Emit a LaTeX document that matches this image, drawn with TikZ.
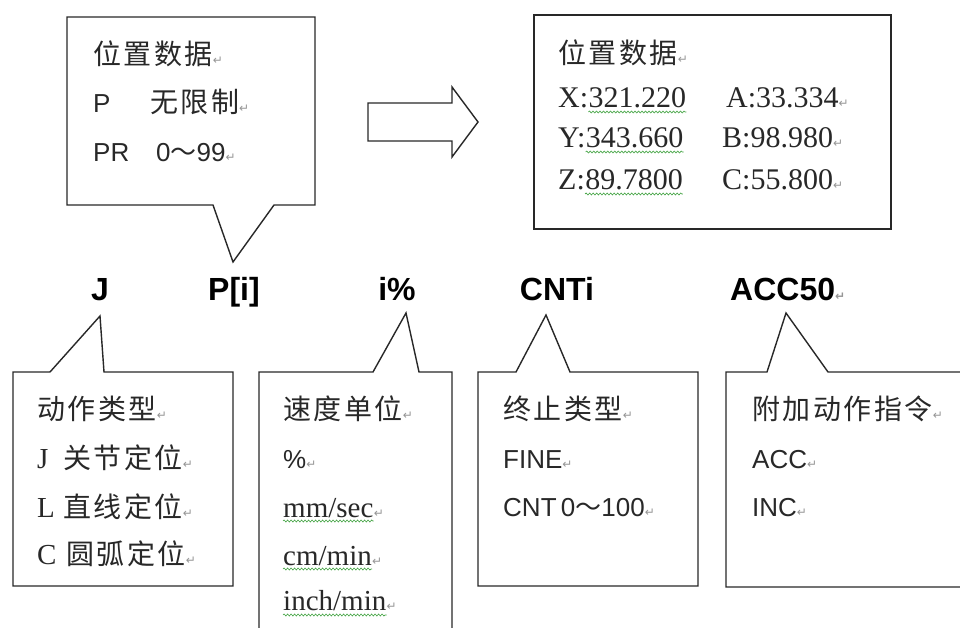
\documentclass[tikz,border=0pt]{standalone}
\usepackage{fontspec}
\setmainfont{Liberation Serif}
\setsansfont{Liberation Sans}
\newfontfamily\cjk[LetterSpace=9]{Noto Sans CJK SC}
\newfontfamily\cjkt{Noto Sans CJK SC}
\newfontfamily\symf{DejaVu Sans}
\usetikzlibrary{decorations.pathmorphing}
\definecolor{pmgray}{RGB}{150,150,150}
\definecolor{wavyg}{RGB}{60,160,60}
\definecolor{inkc}{RGB}{40,40,40}
\newcommand{\pmark}{{\symf\fontsize{12}{12}\selectfont\color{pmgray}↵}}
\newcommand{\wtilde}{{\cjkt ～}}
\tikzset{
  txt/.style={inner sep=0pt, anchor=base west, text=inkc},
  zh/.style={txt, font=\cjk\fontsize{28}{28}\selectfont},
  sf/.style={txt, font=\sffamily\fontsize{26}{26}\selectfont},
  rm/.style={txt, font=\rmfamily\fontsize{30}{30}\selectfont},
  rmb/.style={txt, font=\rmfamily\fontsize{29}{29}\selectfont},
  lab/.style={inner sep=0pt, anchor=base, font=\sffamily\bfseries\fontsize{32}{32}\selectfont},
  callout/.style={draw=inkc, line width=1.4pt, line join=miter},
  wavy/.style={draw=wavyg, line width=0.6pt, decorate, decoration={snake, amplitude=1pt, segment length=3.5pt}}
}
\begin{document}
\begin{tikzpicture}[x=1pt,y=-1pt]
\useasboundingbox (0,0) rectangle (960,628);
\clip (0,0) rectangle (960,628);
\fill[white] (0,0) rectangle (960,628);

% ---- top-left callout
\draw[callout] (67,17) -- (315,17) -- (315,205) -- (274,205) -- (233,262) -- (213,205) -- (67,205) -- cycle;
\node[zh] (t1) at (93,65) {位置数据\pmark};
\node[sf] (t2a) at (93,113) {P};
\node[zh] (t2b) at (150,113) {无限制\pmark};
\node[sf] (t3a) at (93,162) {PR};
\node[sf] (t3b) at (156,162) {0\wtilde 99\pmark};

% ---- block arrow
\draw[callout] (368,103) -- (452,103) -- (452,87) -- (478,122) -- (452,157) -- (452,141) -- (368,141) -- cycle;

% ---- top-right box
\draw[callout] (534,15) rectangle (891,229);
\node[zh] (r0) at (558,64) {位置数据\pmark};
\node[rm] (rx) at (558,108) {X:};
\node[rm, anchor=base west] (rxn) at (rx.base east) {321.220};
\node[rm] (ry) at (558,148) {Y:};
\node[rm, anchor=base west] (ryn) at (ry.base east) {343.660};
\node[rm] (rz) at (558,190) {Z:};
\node[rm, anchor=base west] (rzn) at (rz.base east) {89.7800};
\node[rm] (ra) at (726,108) {A:33.334\pmark};
\node[rm] (rb) at (722,148) {B:98.980\pmark};
\node[rm] (rc) at (722,190) {C:55.800\pmark};
\draw[wavy] ([yshift=-4pt]rxn.base west) -- ([yshift=-4pt]rxn.base east);
\draw[wavy] ([yshift=-4pt]ryn.base west) -- ([yshift=-4pt]ryn.base east);
\draw[wavy] ([yshift=-4pt]rzn.base west) -- ([yshift=-4pt]rzn.base east);

% ---- instruction labels
\node[lab] (lj) at (100,300) {J};
\node[lab] (lp) at (234,300) {P[i]};
\node[lab] (li) at (397,300) {i\%};
\node[lab] (lc) at (557,300) {CNTi};
\node[lab, anchor=base west] (la) at (730,300) {ACC50\pmark};

% ---- box J
\draw[callout] (13,372) -- (50,372) -- (100,316) -- (104,372) -- (233,372) -- (233,586) -- (13,586) -- cycle;
\node[zh] (j0) at (37,419) {动作类型\pmark};
\node[rmb] (j1a) at (37,468) {J};
\node[zh] (j1b) at (63,468) {关节定位\pmark};
\node[rmb] (j2a) at (37,517) {L};
\node[zh] (j2b) at (63,517) {直线定位\pmark};
\node[rmb] (j3a) at (37,564) {C};
\node[zh] (j3b) at (66,564) {圆弧定位\pmark};

% ---- box i%
\draw[callout] (259,660) -- (259,372) -- (373,372) -- (406,313) -- (419,372) -- (452,372) -- (452,660);
\node[zh] (s0) at (283,419) {速度单位\pmark};
\node[sf] (s1) at (283,468) {\%\pmark};
\node[rmb] (s2) at (283,517) {mm/sec};
\node[rmb] (s3) at (283,565) {cm/min};
\node[rmb] (s4) at (283,610) {inch/min};
\node[txt, anchor=base west] at (s2.base east) {\pmark};
\node[txt, anchor=base west] at (s3.base east) {\pmark};
\node[txt, anchor=base west] at (s4.base east) {\pmark};
\draw[wavy] ([yshift=-4pt]s2.base west) -- ([yshift=-4pt]s2.base east);
\draw[wavy] ([yshift=-4pt]s3.base west) -- ([yshift=-4pt]s3.base east);
\draw[wavy] ([yshift=-5pt]s4.base west) -- ([yshift=-5pt]s4.base east);

% ---- box CNTi
\draw[callout] (478,372) -- (516,372) -- (546,315) -- (570,372) -- (698,372) -- (698,586) -- (478,586) -- cycle;
\node[zh] (c0) at (503,419) {终止类型\pmark};
\node[sf] (c1) at (503,468) {FINE\pmark};
\node[sf] (c2) at (503,516) {CNT\,0\wtilde 100\pmark};

% ---- box ACC50
\draw[callout] (980,372) -- (828,372) -- (786,313) -- (767,372) -- (726,372) -- (726,587) -- (980,587);
\node[zh] (a0) at (752,419) {附加动作指令\pmark};
\node[sf] (a1) at (752,468) {ACC\pmark};
\node[sf] (a2) at (752,516) {INC\pmark};
\end{tikzpicture}
\end{document}
